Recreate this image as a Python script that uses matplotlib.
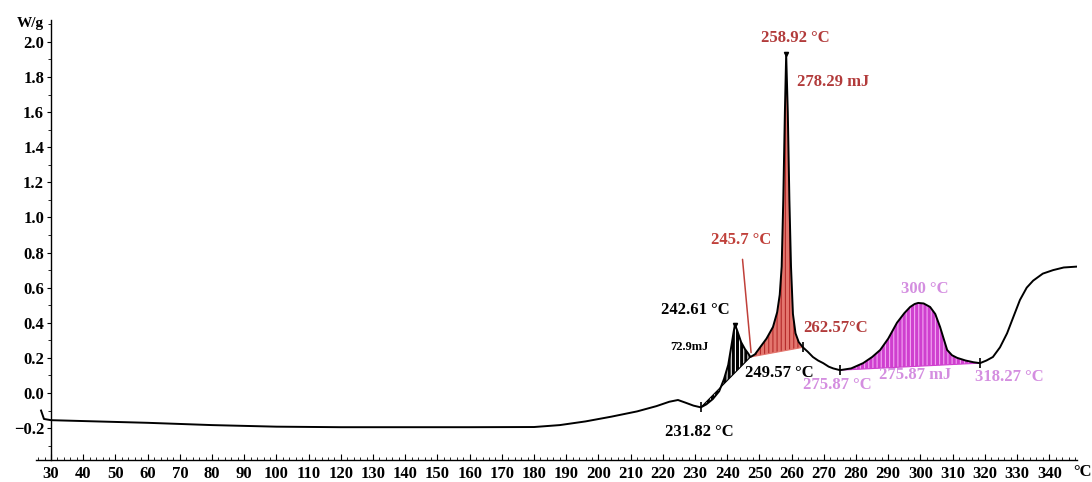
import numpy as np
import matplotlib
matplotlib.use("Agg")
import matplotlib.pyplot as plt
from matplotlib.ticker import MultipleLocator, FuncFormatter

plt.rcParams["font.family"] = ["Liberation Serif", "DejaVu Serif"]
plt.rcParams["font.weight"] = "bold"
plt.rcParams["hatch.linewidth"] = 0.8

# DSC curve (temperature in axis units, heat flow W/g)
temp = [26.9, 27.8, 30, 40, 60, 80, 100, 120, 140, 160, 180, 188, 196, 204,
        212, 218, 222, 224.7, 227, 229.5, 231.8, 233.5, 235.5, 237.5, 239,
        240.3, 241.3, 242.0, 242.4, 243.2, 244.3, 245.5, 246.5, 247.2,
        248.6, 250.2, 252.2, 254.2, 255.5, 256.3, 256.9, 257.4, 257.9,
        258.3, 258.8, 259.3, 259.8, 260.4, 261.2, 262.2, 263.5, 265, 266.6,
        268.2, 269.8, 271.5, 272.9, 275.0, 278.5, 282.2, 285, 287.5, 290,
        292.7, 295, 296.8, 298.2, 299.3, 301, 303, 304.6, 306.1, 307.2,
        308.3, 309.8, 311.4, 314, 316.5, 318.5, 320.5, 322.5, 324.7, 326.9,
        329, 330.9, 333, 335, 338, 341.2, 344.5, 348.6]
heat = [-0.10, -0.148, -0.155, -0.16, -0.17, -0.183, -0.192, -0.195, -0.195,
        -0.195, -0.194, -0.183, -0.162, -0.135, -0.105, -0.075, -0.05,
        -0.04, -0.055, -0.072, -0.082, -0.065, -0.035, 0.01, 0.08, 0.16,
        0.27, 0.35, 0.39, 0.35, 0.29, 0.25, 0.225, 0.205, 0.22, 0.26, 0.31,
        0.376, 0.46, 0.56, 0.72, 1.1, 1.6, 1.93, 1.6, 1.1, 0.72, 0.45,
        0.34, 0.29, 0.26, 0.235, 0.205, 0.185, 0.17, 0.15, 0.14, 0.13,
        0.14, 0.17, 0.205, 0.245, 0.31, 0.40, 0.455, 0.49, 0.507, 0.513,
        0.51, 0.49, 0.45, 0.376, 0.31, 0.245, 0.215, 0.20, 0.185, 0.175,
        0.17, 0.185, 0.205, 0.26, 0.34, 0.44, 0.53, 0.60, 0.64, 0.68, 0.70,
        0.715, 0.72]

# integration limits (start, end) of the three peaks
black_limits = [231.8, 247.2]
red_limits = [247.2, 263.5]
magenta_limits = [275.0, 318.5]

marker_temps = [231.8, 263.5, 275.0, 318.5]
apex_temps = [242.4, 258.3]

x_ticks = list(range(30, 350, 10))
y_ticks = [-0.2, 0.0, 0.2, 0.4, 0.6, 0.8, 1.0, 1.2, 1.4, 1.6, 1.8, 2.0]

temp = np.array(temp)
heat = np.array(heat)

fig = plt.figure(figsize=(10.92, 4.82), dpi=100)
ax = fig.add_axes([0.033, 0.0456, 0.9533, 0.9129])
ax.set_xlim(25.34, 348.63)
ax.set_ylim(-0.382, 2.125)


def shade(limits, face, stripe):
    m = (temp >= limits[0]) & (temp <= limits[1])
    x = temp[m]
    y0 = np.interp(limits[0], temp, heat)
    y1 = np.interp(limits[1], temp, heat)
    base = y0 + (y1 - y0) * (x - limits[0]) / (limits[1] - limits[0])
    ax.fill_between(x, base, heat[m], facecolor=face, edgecolor=stripe,
                    hatch="||||", linewidth=0)
    ax.plot([limits[0], limits[1]], [y0, y1], color=face, lw=0.8)


shade(black_limits, "black", "white")
shade(red_limits, "#e3766e", "#b52a2a")
shade(magenta_limits, "#cf3fcf", "#f2a6f2")

ax.plot(temp, heat, color="black", lw=1.4)
ax.plot(marker_temps, np.interp(marker_temps, temp, heat), ls="none",
        marker="|", ms=7, mew=1.2, color="black")
ax.plot(apex_temps, np.interp(apex_temps, temp, heat), ls="none",
        marker="v", ms=3, color="black")

# annotations
dark_red = "#b23b3b"
lilac = "#d48ee0"
ax.text(261.0, 2.02, "258.92 °C", color=dark_red, fontsize=12, ha="center", va="center")
ax.text(261.7, 1.77, "278.29 mJ", color=dark_red, fontsize=12, ha="left", va="center")
ax.annotate("245.7 °C", xy=(247.4, 0.23), xytext=(244.2, 0.87), color="#c0403a",
            fontsize=12, ha="center", va="center",
            arrowprops=dict(arrowstyle="-", color="#c0403a", lw=1.1,
                            shrinkA=6, shrinkB=0))
ax.text(230.0, 0.47, "242.61 °C", color="black", fontsize=12, ha="center", va="center")
ax.text(228.3, 0.26, "72.9mJ", color="black", fontsize=9, ha="center", va="center")
ax.text(256.3, 0.114, "249.57 °C", color="black", fontsize=12, ha="center", va="center")
ax.text(231.2, -0.22, "231.82 °C", color="black", fontsize=12, ha="center", va="center")
ax.text(273.7, 0.37, "262.57°C", color=dark_red, fontsize=12, ha="center", va="center")
ax.text(274.3, 0.046, "275.87 °C", color=lilac, fontsize=12, ha="center", va="center")
ax.text(298.3, 0.10, "275.87 mJ", color=lilac, fontsize=12, ha="center", va="center")
ax.text(301.3, 0.59, "300 °C", color=lilac, fontsize=12, ha="center", va="center")
ax.text(327.7, 0.09, "318.27 °C", color=lilac, fontsize=12, ha="center", va="center")

# axes styling
for s in ["top", "right"]:
    ax.spines[s].set_visible(False)
ax.spines["left"].set_position(("data", 30))
ax.spines["left"].set_linewidth(1.0)
ax.spines["bottom"].set_linewidth(1.0)

ax.set_xticks(x_ticks)
ax.xaxis.set_minor_locator(MultipleLocator(2))
ax.tick_params(axis="x", which="major", direction="in", length=4, pad=4,
               labelsize=12)
ax.tick_params(axis="x", which="minor", direction="in", length=2)
ax.set_yticks(y_ticks)
ax.yaxis.set_minor_locator(MultipleLocator(0.1))
ax.yaxis.set_major_formatter(FuncFormatter(lambda v, p: f"{v:.1f}".replace("-", "\u2212")))
ax.tick_params(axis="y", which="major", direction="out", length=3, pad=2,
               labelsize=12)
ax.tick_params(axis="y", which="minor", direction="out", length=2)

fig.text(30 / 1092, 1 - 23 / 482, "W/g", fontsize=11, ha="center", va="center")
fig.text(1082 / 1092, 1 - 472 / 482, "°C", fontsize=12, ha="center", va="center")

fig.savefig("out.png", dpi=100, facecolor="white")
